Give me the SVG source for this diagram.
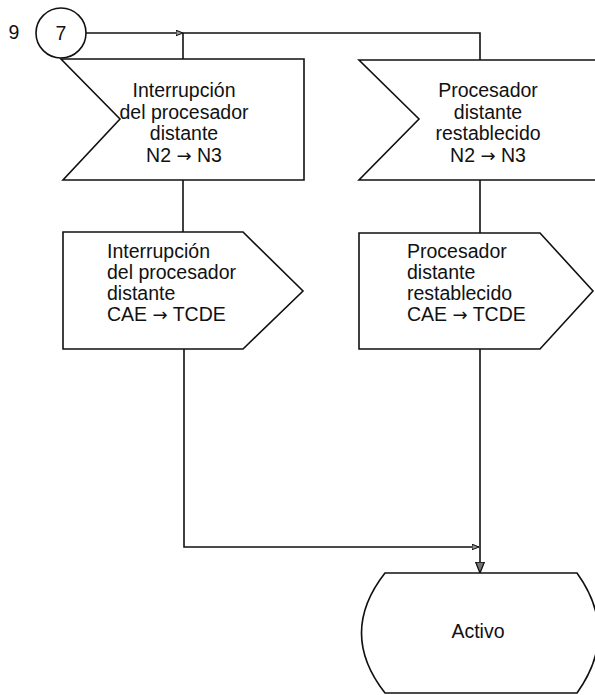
<svg xmlns="http://www.w3.org/2000/svg" width="595" height="695" viewBox="0 0 595 695">
<style>
.s{fill:none;stroke:#111;stroke-width:1.6;stroke-linejoin:miter}
.t{font-family:"Liberation Sans",Arial,sans-serif;font-size:19.5px;fill:#111}
.c{text-anchor:middle}
.ar{font-family:"DejaVu Sans",sans-serif;font-size:18px}
</style>
<defs>
<marker id="ao" viewBox="0 0 10 10" refX="10" refY="5" markerWidth="7" markerHeight="7" orient="auto" markerUnits="userSpaceOnUse">
<path d="M0,1 L10,5 L0,9 Z" fill="#999" stroke="#111" stroke-width="1.5"/>
</marker>
<marker id="af" viewBox="0 0 10 10" refX="10" refY="5" markerWidth="11" markerHeight="11" orient="auto" markerUnits="userSpaceOnUse">
<path d="M0,1 L10,5 L0,9 Z" fill="#777" stroke="#111" stroke-width="1.2"/>
</marker>
</defs>
<g id="connectors">
<path class="s" d="M86,33 H183" marker-end="url(#ao)"/>
<path class="s" d="M183,33 H480 V60"/>
<path class="s" d="M183,33 V59"/>
<path class="s" d="M183,180 V232"/>
<path class="s" d="M480,180 V233"/>
<path class="s" d="M184,349 V547 H479" marker-end="url(#ao)"/>
<path class="s" d="M480,349 V573" marker-end="url(#af)"/>
</g>
<g id="connector9">
<circle class="s" cx="61" cy="33" r="25"/>
<text class="t c" x="61" y="40">7</text>
<text class="t c" x="14" y="39">9</text>
</g>
<g id="n1">
<path class="s" d="M61,59 H304 V180 H63 L120,119 Z"/>
<text class="t c" x="184" y="97">Interrupción</text>
<text class="t c" x="184" y="119">del procesador</text>
<text class="t c" x="184" y="140">distante</text>
<text class="t c" x="184" y="162">N2 <tspan class="ar">→</tspan> N3</text>
</g>
<g id="n2">
<path class="s" d="M600,60 H359 L419,119 L359,180 H600"/>
<text class="t c" x="488" y="97">Procesador</text>
<text class="t c" x="488" y="119">distante</text>
<text class="t c" x="488" y="140">restablecido</text>
<text class="t c" x="488" y="162">N2 <tspan class="ar">→</tspan> N3</text>
</g>
<g id="n3">
<path class="s" d="M63,232 H243 L303,291 L243,349 H63 Z"/>
<text class="t" x="107" y="258">Interrupción</text>
<text class="t" x="107" y="279">del procesador</text>
<text class="t" x="107" y="300">distante</text>
<text class="t" x="107" y="321">CAE <tspan class="ar">→</tspan> TCDE</text>
</g>
<g id="n4">
<path class="s" d="M359,233 H540 L593,291 L540,349 H359 Z"/>
<text class="t" x="407" y="258">Procesador</text>
<text class="t" x="407" y="279">distante</text>
<text class="t" x="407" y="300">restablecido</text>
<text class="t" x="407" y="321">CAE <tspan class="ar">→</tspan> TCDE</text>
</g>
<g id="n5">
<path class="s" d="M385,573 H577 Q620,633 577,693 H385 Q338,633 385,573 Z"/>
<text class="t c" x="478" y="638">Activo</text>
</g>
</svg>
